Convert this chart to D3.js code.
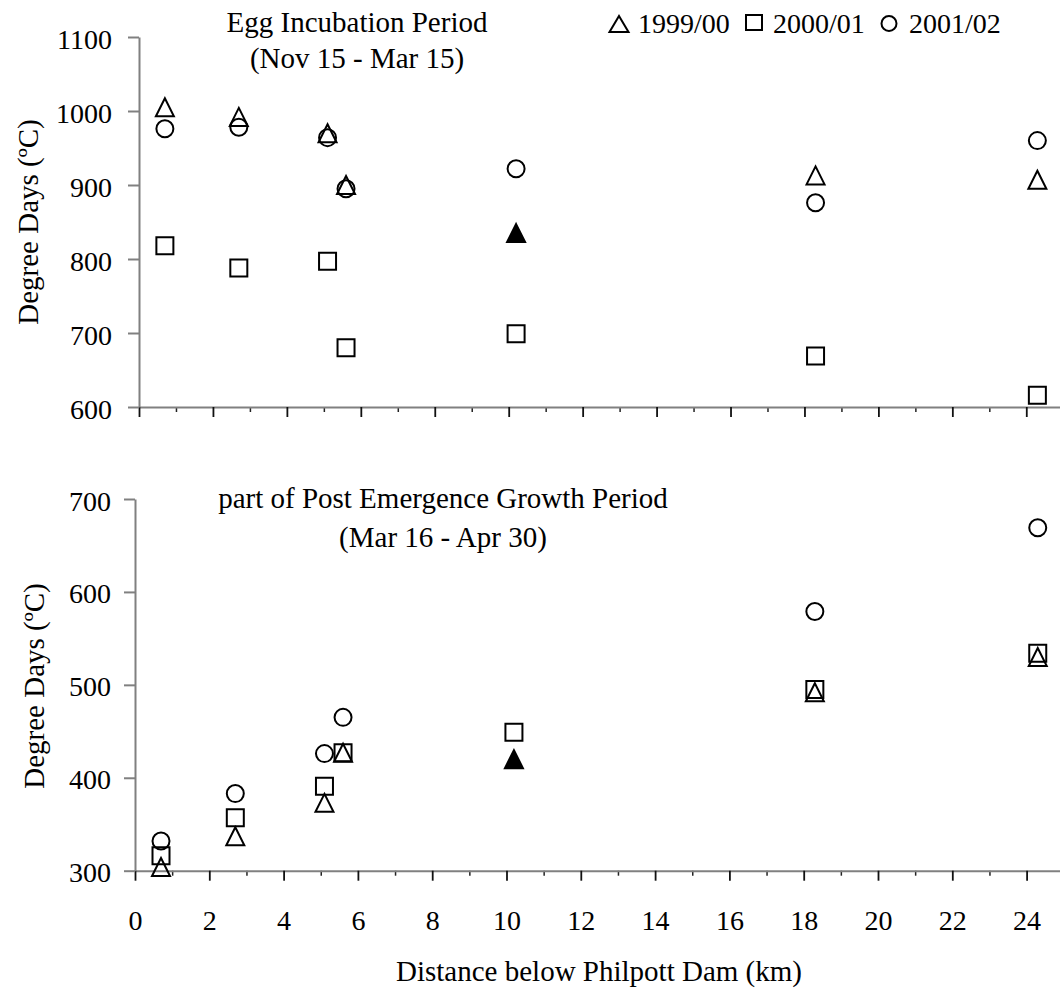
<!DOCTYPE html>
<html>
<head>
<meta charset="utf-8">
<script src="https://cdn.jsdelivr.net/npm/d3@7"></script>
<style>
  html, body { margin: 0; padding: 0; background: #fff; }
  svg { display: block; }
  text { font-family: "Liberation Serif", "Times New Roman", serif; fill: #000; }
</style>
</head>
<body>
<svg id="chart" width="1060" height="989"></svg>
<script>
// ---- data ----
const distances = [0.7, 2.7, 5.1, 5.6, 10.2, 18.3, 24.3];
const seriesNames = ["1999/00", "2000/01", "2001/02"];
const seriesShapes = ["triangle", "square", "circle"];

const eggTriangle = [1005, 992, 970, 900, 835, 913, 907];
const eggSquare   = [818, 788, 797, 680, 699, 669, 616];
const eggCircle   = [976, 978, 964, 895, 922, 876, 960];

const growthTriangle = [304, 337, 373, 427, 420, 492, 530];
const growthSquare   = [316, 357, 391, 427, 449, 495, 534];
const growthCircle   = [332, 383, 426, 465, null, 579, 669];

const triangleFilled = [false, false, false, false, true, false, false];

const topYTicks = [600, 700, 800, 900, 1000, 1100];
const bottomYTicks = [300, 400, 500, 600, 700];
const xMajorTicks = [0, 2, 4, 6, 8, 10, 12, 14, 16, 18, 20, 22, 24];
const xMinorTicks = [1, 3, 5, 7, 9, 11, 13, 15, 17, 19, 21, 23];

const topTitle = ["Egg Incubation Period", "(Nov 15 - Mar 15)"];
const bottomTitle = ["part of Post Emergence Growth Period", "(Mar 16 - Apr 30)"];
const yTitle = "Degree Days (ºC)";
const xTitle = "Distance below Philpott Dam (km)";

// ---- drawing ----
const FONT = '"Liberation Serif", "Times New Roman", serif';
const svg = d3.select("#chart");
svg.append("rect").attr("width", 1060).attr("height", 989).attr("fill", "#fff");

function shapePath(shape, w, h) {
  if (shape === "triangle") {
    return `M0,${-h/2}L${w/2},${h/2}L${-w/2},${h/2}Z`;
  }
  return `M${-w/2},${-h/2}H${w/2}V${h/2}H${-w/2}Z`;
}

function styleText(sel, size) {
  sel.style("font-family", FONT).style("font-size", size + "px").style("fill", "#000");
}

function drawPanel(cfg) {
  const g = svg.append("g");
  const x = d3.scaleLinear().domain([0, 25]).range(cfg.xRange);
  const y = d3.scaleLinear().domain(cfg.yDomain).range(cfg.yRange);

  // x axis minor ticks
  const xMinor = g.append("g").attr("transform", `translate(0,${cfg.yRange[0]})`)
    .call(d3.axisBottom(x).tickValues(xMinorTicks).tickSize(5).tickSizeOuter(0).tickFormat(""));
  xMinor.select(".domain").remove();
  xMinor.selectAll(".tick line").attr("stroke", "#222").attr("stroke-width", 1.5);

  const xMajor = g.append("g").attr("transform", `translate(0,${cfg.yRange[0]})`)
    .call(d3.axisBottom(x).tickValues(xMajorTicks).tickSize(10).tickSizeOuter(0)
      .tickFormat(cfg.xLabels ? d3.format("d") : ""));
  xMajor.attr("font-family", null).attr("font-size", null);
  xMajor.select(".domain").attr("stroke", "#808080").attr("stroke-width", 2);
  xMajor.selectAll(".tick line").attr("stroke", "#111").attr("stroke-width", 1.8);
  xMajor.selectAll(".tick text")
    .attr("fill", "#000").attr("dy", null).attr("y", 930 - cfg.yRange[0])
    .call(styleText, 28);

  // y axis
  const yAx = g.append("g").attr("transform", `translate(${cfg.xRange[0]},0)`)
    .call(d3.axisLeft(y).tickValues(cfg.yTicks).tickSize(11).tickSizeOuter(0).tickFormat(d3.format("d")));
  yAx.attr("font-family", null).attr("font-size", null);
  yAx.select(".domain").attr("stroke", "#808080").attr("stroke-width", 2);
  yAx.selectAll(".tick line").attr("stroke", "#808080").attr("stroke-width", 2);
  yAx.selectAll(".tick text")
    .attr("dy", null).attr("y", 11).attr("x", cfg.yLabelX - cfg.xRange[0])
    .call(styleText, 28);

  // y title
  g.append("text")
    .attr("transform", `translate(${cfg.yTitleX},${cfg.yTitleY}) rotate(-90)`)
    .attr("text-anchor", "middle").call(styleText, 29).text(yTitle);

  // panel title
  cfg.title.forEach((t, i) => {
    g.append("text").attr("x", cfg.titleX).attr("y", cfg.titleY[i])
      .attr("text-anchor", "middle").call(styleText, 29).text(t);
  });

  // markers
  const pts = g.append("g");
  const sq = cfg.square.map((v, i) => ({d: distances[i], v})).filter(p => p.v != null);
  pts.selectAll("path.sq").data(sq).join("path").attr("class", "sq")
    .attr("d", shapePath("square", 17, 17))
    .attr("transform", p => `translate(${x(p.d)},${y(p.v)})`)
    .attr("fill", "none").attr("stroke", "#000").attr("stroke-width", 2);

  const tri = cfg.triangle.map((v, i) => ({d: distances[i], v, f: triangleFilled[i]})).filter(p => p.v != null);
  pts.selectAll("path.tri").data(tri).join("path").attr("class", "tri")
    .attr("d", shapePath("triangle", 18, 18))
    .attr("transform", p => `translate(${x(p.d)},${y(p.v)})`)
    .attr("fill", p => p.f ? "#000" : "none").attr("stroke", "#000").attr("stroke-width", 2);

  const cir = cfg.circle.map((v, i) => ({d: distances[i], v})).filter(p => p.v != null);
  pts.selectAll("circle.cir").data(cir).join("circle").attr("class", "cir")
    .attr("cx", p => x(p.d)).attr("cy", p => y(p.v)).attr("r", 8.5)
    .attr("fill", "none").attr("stroke", "#000").attr("stroke-width", 2);
}

drawPanel({
  xRange: [139, 139 + 25 * 36.97],
  yDomain: [600, 1100], yRange: [407, 37], yTicks: topYTicks,
  xLabels: false, yLabelX: 112,
  yTitleX: 38, yTitleY: 222,
  title: topTitle, titleX: 357, titleY: [32, 68],
  triangle: eggTriangle, square: eggSquare, circle: eggCircle
});

drawPanel({
  xRange: [135, 135 + 25 * 37.15],
  yDomain: [300, 700], yRange: [870.7, 499], yTicks: bottomYTicks,
  xLabels: true, yLabelX: 111,
  yTitleX: 44, yTitleY: 686,
  title: bottomTitle, titleX: 443, titleY: [508, 547],
  triangle: growthTriangle, square: growthSquare, circle: growthCircle
});

// x title
svg.append("text").attr("x", 599).attr("y", 981).attr("text-anchor", "middle")
  .call(styleText, 29).text(xTitle);

// legend
const legend = svg.append("g");
const legendMarkerX = [619, 754, 889];
const legendMarkerY = [24, 22.5, 23.5];
const legendTextX = [638, 773, 909];
seriesNames.forEach((name, i) => {
  const shape = seriesShapes[i];
  if (shape === "circle") {
    legend.append("circle").attr("cx", legendMarkerX[i]).attr("cy", legendMarkerY[i]).attr("r", 7.5)
      .attr("fill", "none").attr("stroke", "#000").attr("stroke-width", 2);
  } else if (shape === "triangle") {
    legend.append("path").attr("d", shapePath("triangle", 19, 16))
      .attr("transform", `translate(${legendMarkerX[i]},${legendMarkerY[i]})`)
      .attr("fill", "none").attr("stroke", "#000").attr("stroke-width", 2);
  } else {
    legend.append("path").attr("d", shapePath("square", 16, 15))
      .attr("transform", `translate(${legendMarkerX[i]},${legendMarkerY[i]})`)
      .attr("fill", "none").attr("stroke", "#000").attr("stroke-width", 2);
  }
  legend.append("text").attr("x", legendTextX[i]).attr("y", 33).call(styleText, 28).text(name);
});
</script>
</body>
</html>
